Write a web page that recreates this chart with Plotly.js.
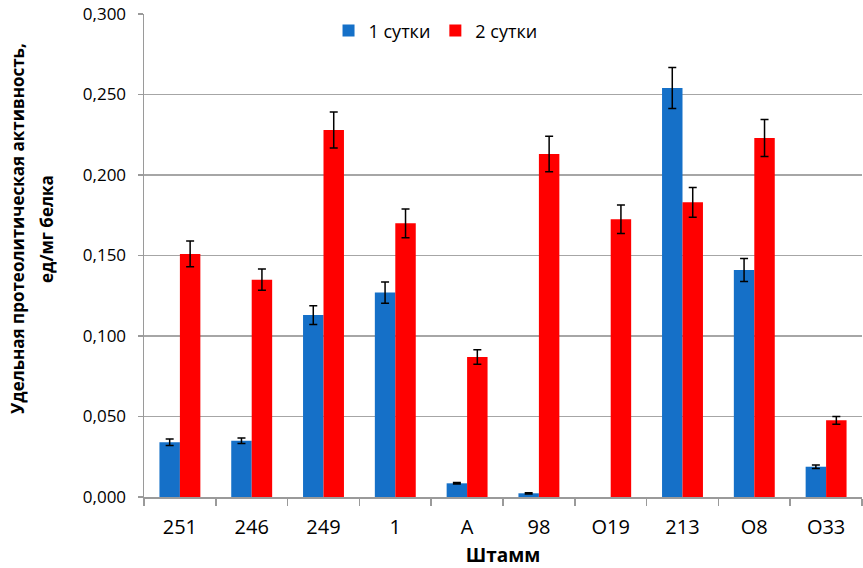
<!DOCTYPE html>
<html>
<head>
<meta charset="utf-8">
<script src="https://cdn.plot.ly/plotly-3.0.1.min.js"></script>
<style>
  html, body { margin: 0; padding: 0; background: #fff; }
  #chart { width: 863px; height: 568px; }
</style>
</head>
<body>
<div id="chart"></div>
<script>
// Strains on the x axis
const strains = ['251', '246', '249', '1', 'A', '98', 'O19', '213', 'O8', 'O33'];

// Specific proteolytic activity, U/mg protein, after 1 day (O19: no activity, no error bar)
const day1 = [0.034, 0.035, 0.113, 0.127, 0.0085, 0.0023, 0, 0.254, 0.141, 0.0188];
const day1Err = [0.002, 0.0017, 0.0058, 0.0066, 0.0005, 0.0004, NaN, 0.0127, 0.0071, 0.0011];

// ... and after 2 days
const day2 = [0.151, 0.135, 0.228, 0.170, 0.087, 0.213, 0.1725, 0.183, 0.223, 0.0476];
const day2Err = [0.008, 0.0066, 0.0112, 0.0089, 0.0045, 0.011, 0.0089, 0.0092, 0.0115, 0.0024];

const seriesNames = ['1 сутки', '2 сутки'];
const yTicks = [0, 0.05, 0.10, 0.15, 0.20, 0.25, 0.30];
const yTitleLines = ['Удельная протеолитическая активность,', 'ед/мг белка'];
const xTitle = 'Штамм';

const font = 'Open Sans, Noto Sans, sans-serif';
const narrow = 'Liberation Sans Narrow, Open Sans, sans-serif';

function errBars(arr) {
  return { type: 'data', array: arr, visible: true, color: '#000', thickness: 1.5, width: 4 };
}

const traces = [
  {
    type: 'bar', name: seriesNames[0], x: strains, y: day1,
    marker: { color: '#1570C8', line: { width: 0 } },
    error_y: errBars(day1Err)
  },
  {
    type: 'bar', name: seriesNames[1], x: strains, y: day2,
    marker: { color: '#FF0000', line: { width: 0 } },
    error_y: errBars(day2Err)
  }
];

// y-axis title drawn as two rotated lines with wide line spacing
const yTitleAnnots = yTitleLines.map((t, i) => ({
  text: '<b>' + t + '</b>',
  xref: 'paper', yref: 'paper',
  x: 0, y: 0.555,
  xshift: i === 0 ? -126 : -97,
  xanchor: 'center', yanchor: 'middle',
  textangle: -90, showarrow: false,
  font: { family: font, size: 17, color: '#000' }
}));

const layout = {
  width: 863, height: 568,
  margin: { l: 144, r: 1, t: 14, b: 71 },
  paper_bgcolor: '#fff', plot_bgcolor: '#fff',
  separators: ', ',
  barmode: 'group',
  bargap: 0.43,
  bargroupgap: 0,
  font: { family: font, size: 15, color: '#000' },
  showlegend: true,
  legend: {
    orientation: 'h', x: 0.257, y: 0.965, xanchor: 'left', yanchor: 'middle',
    font: { family: font, size: 18, color: '#000' },
    bgcolor: 'rgba(0,0,0,0)', traceorder: 'normal'
  },
  xaxis: {
    type: 'category',
    showline: true, linecolor: '#9a9a9a', linewidth: 1.5,
    ticks: 'outside', tickson: 'boundaries', ticklen: 7, tickcolor: '#9a9a9a', tickwidth: 1.5,
    ticklabelstandoff: 11,
    tickfont: { family: narrow, size: 20, color: '#000' },
    showgrid: false,
    title: { text: '<b>' + xTitle + '</b>', font: { family: narrow, size: 19, color: '#000' }, standoff: 12 }
  },
  yaxis: {
    range: [0, 0.3],
    tickvals: yTicks, tickformat: '.3f',
    showline: true, linecolor: '#9a9a9a', linewidth: 1.5,
    ticks: 'outside', ticklen: 5, tickcolor: '#9a9a9a', tickwidth: 1.5,
    ticklabelstandoff: 8,
    showgrid: true, gridcolor: '#a6a6a6', gridwidth: 1.5,
    zeroline: false,
    tickfont: { family: font, size: 17, color: '#000' }
  },
  annotations: yTitleAnnots
};

Plotly.newPlot('chart', traces, layout, { displayModeBar: false, responsive: false, staticPlot: true });
</script>
</body>
</html>
